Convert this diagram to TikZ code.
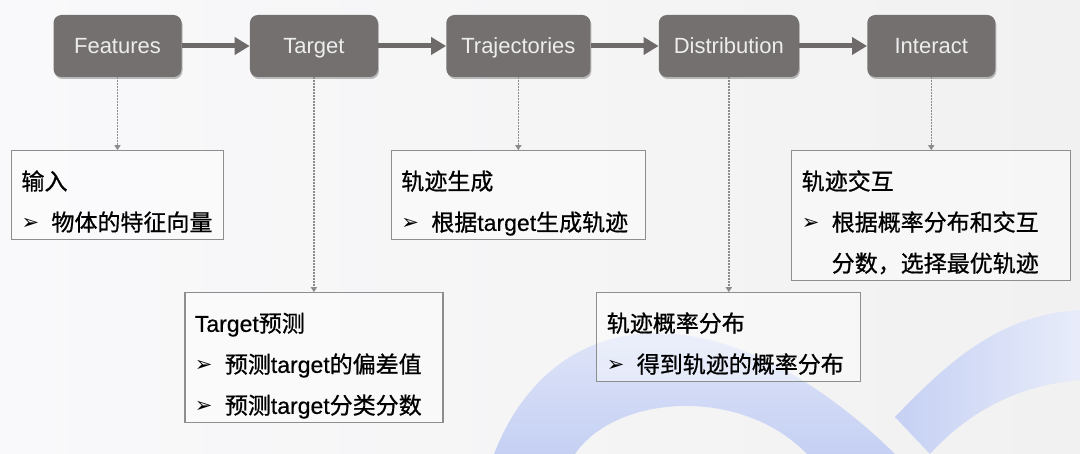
\documentclass[tikz,border=0pt]{standalone}
\usepackage{fontspec}
\setmainfont{Liberation Sans}
\newfontfamily\cjk{Noto Sans CJK SC}[FakeBold=0.8]
\newfontfamily\notelatin{Liberation Sans}[FakeBold=0.5]
\newfontfamily\symfont{DejaVu Sans}
\usetikzlibrary{arrows.meta, positioning, shadows}

\definecolor{stepgray}{RGB}{116,112,111}
\definecolor{flowgray}{RGB}{110,106,105}
\definecolor{dotgray}{RGB}{140,140,140}
\definecolor{framegray}{RGB}{142,142,142}
\definecolor{bgleft}{RGB}{249,249,251}
\definecolor{bgright}{RGB}{241,241,241}
\definecolor{ribbonlight}{RGB}{232,236,250}
\definecolor{ribbondark}{RGB}{197,208,243}

\newcommand{\bul}{\makebox[30pt][l]{\raisebox{1pt}{\symfont\fontsize{21}{21}\selectfont ➢}}}
\newcommand{\firstline}{\rule{0pt}{39pt}}
\newcommand{\lastline}{\rule[-9pt]{0pt}{9pt}}

\tikzset{
  stage/.style={rectangle, rounded corners=8pt, fill=stepgray, text=white!93!black,
    minimum width=128pt, minimum height=62pt, inner xsep=15pt,
    text height=16pt, text depth=0pt,
    font=\fontsize{22}{26}\selectfont,
    drop shadow={shadow xshift=1pt, shadow yshift=-2pt, opacity=0.25, fill=black}},
  flow/.style={-{Triangle[length=15pt,width=17pt]}, line width=5pt, draw=flowgray},
  note/.style={draw=framegray, line width=1.3pt, fill=white, fill opacity=0.4,
    text opacity=1, align=left, inner xsep=10pt, inner ysep=0pt,
    font=\notelatin\fontsize{23}{41}\selectfont},
  link/.style={draw=dotgray, line width=1.5pt, dash pattern=on 1.5pt off 1.5pt,
    -{Triangle[length=5pt,width=6pt]}}
}

\begin{document}
\begin{tikzpicture}[x=1pt, y=1pt]
    \useasboundingbox (0,0) rectangle (1080,-454);
    % background and ribbons
    \shade[left color=bgleft, right color=bgright] (0,0) rectangle (1080,-454);
    \shade[top color=ribbonlight, bottom color=ribbondark]
        (494,-454) .. controls (555,-298) and (725,-288) .. (895,-454)
        -- (807,-454) .. controls (740,-385) and (615,-395) .. (575,-454) -- cycle;
    \shade[left color=ribbondark, right color=ribbonlight]
        (895,-417) -- (930,-454) .. controls (970,-410) and (1020,-385) .. (1080,-380)
        -- (1080,-310) .. controls (1000,-315) and (950,-360) .. (895,-417) -- cycle;

    % pipeline
    \node[stage] (features) at (117.5,-46) {Features};
    \node[stage, right=68pt of features] (target) {Target};
    \node[stage, right=68pt of target] (trajectories) {Trajectories};
    \node[stage, right=68pt of trajectories] (distribution) {Distribution};
    \node[stage, right=68pt of distribution] (interact) {Interact};

    \draw[flow] (features) -- (target);
    \draw[flow] (target) -- (trajectories);
    \draw[flow] (trajectories) -- (distribution);
    \draw[flow] (distribution) -- (interact);

    % notes
    \node[note, text width=192pt, below=73pt of features] (input)
        {{\cjk\firstline 输入}\\
         \bul{\cjk 物体的特征向量}\lastline};
    \node[note, text width=238pt, below=215pt of target] (predict)
        {\firstline Target{\cjk 预测}\\
         \bul{\cjk 预测}target{\cjk 的偏差值}\\
         \bul{\cjk 预测}target{\cjk 分类分数}\lastline};
    \node[note, text width=234pt, below=73pt of trajectories] (generate)
        {{\cjk\firstline 轨迹生成}\\
         \bul{\cjk 根据}target{\cjk 生成轨迹}\lastline};
    \node[note, text width=244pt, below=215pt of distribution] (probability)
        {{\cjk\firstline 轨迹概率分布}\\
         \bul{\cjk 得到轨迹的概率分布}\lastline};
    \node[note, text width=259pt, below=73pt of interact] (interaction)
        {{\cjk\firstline 轨迹交互}\\
         \bul{\cjk 根据概率分布和交互}\\
         \hspace*{30pt}{\cjk 分数，选择最优轨迹}\lastline};

    \draw[link] (features) -- (input);
    \draw[link] (target) -- (predict);
    \draw[link] (trajectories) -- (generate);
    \draw[link] (distribution) -- (probability);
    \draw[link] (interact) -- (interaction);
\end{tikzpicture}
\end{document}
